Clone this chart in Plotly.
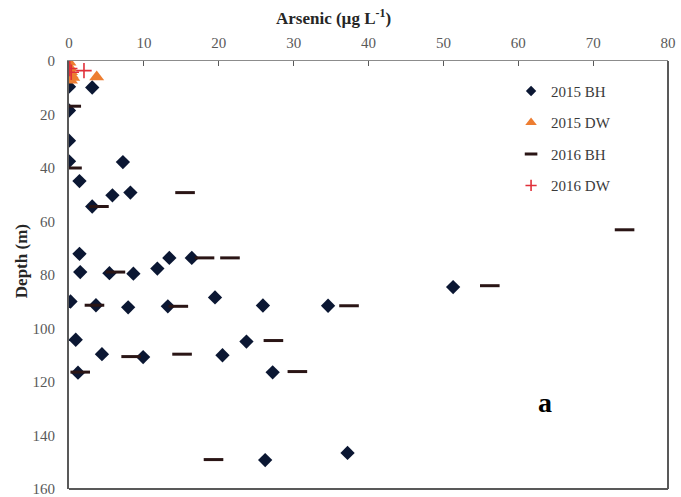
import plotly.graph_objects as go

# ---- Data ----
bh2015_as = [0.0, 3.1, 0.0, 0.0, 0.0, 7.2, 1.4, 5.8, 8.2, 3.1,
             1.4, 1.5, 5.4, 8.6, 11.8, 13.4, 16.4, 0.2, 3.6, 7.9,
             13.2, 19.5, 25.9, 34.6, 51.3, 0.9, 23.7, 1.2, 4.4, 9.9,
             20.5, 27.2, 26.2, 37.2]
bh2015_depth = [9.6, 9.9, 18.5, 29.8, 37.5, 37.8, 44.9, 50.2, 49.2, 54.4,
                72.1, 78.9, 79.3, 79.5, 77.6, 73.6, 73.6, 89.9, 91.3, 92.1,
                91.7, 88.4, 91.4, 91.5, 84.5, 104.2, 104.9, 116.5, 109.6, 110.7,
                110.0, 116.4, 149.2, 146.5]

dw2015_as = [0.0, 0.1, 0.2, 0.3, 0.5, 0.2, 3.7]
dw2015_depth = [0.5, 2.5, 4.0, 5.2, 6.2, 7.2, 6.0]

bh2016_as = [0.3, 0.4, 4.0, 15.5, 6.2, 18.1, 21.5, 3.4, 14.6, 37.4,
             27.3, 74.2, 56.2, 8.3, 15.1, 1.5, 30.5, 19.3]
bh2016_depth = [16.9, 40.0, 54.4, 49.2, 78.9, 73.6, 73.6, 91.3, 91.7, 91.5,
                104.5, 63.1, 84.0, 110.5, 109.6, 116.3, 116.1, 149.0]

dw2016_as = [0.1, 0.3, 2.0]
dw2016_depth = [2.8, 4.2, 3.6]

series_names = ["2015 BH", "2015 DW", "2016 BH", "2016 DW"]
x_ticks = [0, 10, 20, 30, 40, 50, 60, 70, 80]
y_ticks = [0, 20, 40, 60, 80, 100, 120, 140, 160]

SERIF = "Liberation Serif"
C_BH15 = "#0b1733"
C_DW15 = "#ed7d31"
C_BH16 = "#2a1515"
C_DW16 = "#e0303a"

styles = [
    dict(symbol="diamond", color=C_BH15, line=dict(width=0)),
    dict(symbol="triangle-up", color=C_DW15, line=dict(width=0)),
    dict(symbol="line-ew", color=C_BH16, line=dict(width=3, color=C_BH16)),
    dict(symbol="cross-thin", color=C_DW16, line=dict(width=1.6, color=C_DW16)),
]
plot_sizes = [11, 13, 14, 11]
legend_sizes = [8, 10, 9, 8]
data = [(bh2015_as, bh2015_depth), (dw2015_as, dw2015_depth),
        (bh2016_as, bh2016_depth), (dw2016_as, dw2016_depth)]

fig = go.Figure()
for name, (xs, ys), st, ps in zip(series_names, data, styles, plot_sizes):
    fig.add_trace(go.Scatter(x=xs, y=ys, mode="markers", name=name,
                             showlegend=False, marker=dict(size=ps, **st)))
# legend entries (smaller symbols, like the reference legend)
for i, (name, st, ls) in enumerate(zip(series_names, styles, legend_sizes)):
    fig.add_trace(go.Scatter(x=[None], y=[None], mode="markers", name=name,
                             legendgroup=f"g{i}", showlegend=True,
                             marker=dict(size=ls, **st)))

fig.update_layout(
    width=681, height=497,
    margin=dict(l=69, r=13, t=61, b=8),
    paper_bgcolor="white", plot_bgcolor="white",
    font=dict(family=SERIF, size=14, color="#595959"),
    showlegend=True,
    legend=dict(x=0.738, y=0.968, xanchor="left", yanchor="top",
                bgcolor="rgba(0,0,0,0)", tracegroupgap=9,
                font=dict(family=SERIF, size=15, color="#3a3a3a"),
                itemwidth=30),
    xaxis=dict(range=[0, 80], side="top", tickvals=x_ticks,
               showgrid=False, zeroline=False, automargin=False,
               showline=True, linecolor="#8c8c8c", linewidth=1,
               ticks="inside", ticklen=5, tickcolor="#595959",
               ticklabelstandoff=6, ticklabeloverflow="allow",
               tickfont=dict(family=SERIF, size=15, color="#595959")),
    yaxis=dict(range=[160, 0], tickvals=y_ticks,
               showgrid=False, zeroline=False, automargin=False,
               showline=True, linecolor="#595959", linewidth=2,
               ticks="", ticklabelstandoff=9, ticklabeloverflow="allow",
               tickfont=dict(family=SERIF, size=15, color="#595959")),
    shapes=[
        dict(type="line", xref="paper", yref="paper", x0=1, x1=1, y0=0, y1=1,
             line=dict(color="#595959", width=2)),
        dict(type="line", xref="paper", yref="paper", x0=0, x1=1, y0=0, y1=0,
             line=dict(color="#595959", width=2)),
    ],
    annotations=[
        dict(text="Arsenic (µg L<sup>-1</sup>)", xref="paper", yref="paper",
             x=0.441, y=1.103, showarrow=False, xanchor="center", yanchor="middle",
             font=dict(family=SERIF, size=17, color="#262626", weight="bold")),
        dict(text="Depth (m)", xref="paper", yref="paper", textangle=-90,
             x=-0.078, y=0.533, showarrow=False, xanchor="center", yanchor="middle",
             font=dict(family=SERIF, size=17, color="#262626", weight="bold")),
        dict(text="a", xref="paper", yref="paper",
             x=0.795, y=0.203, showarrow=False, xanchor="center", yanchor="middle",
             font=dict(family=SERIF, size=28, color="#000000", weight="bold")),
    ],
)

fig.write_html("out.html", config={"displayModeBar": False},
               post_script="document.body.style.margin='0';document.body.style.overflow='hidden';")
